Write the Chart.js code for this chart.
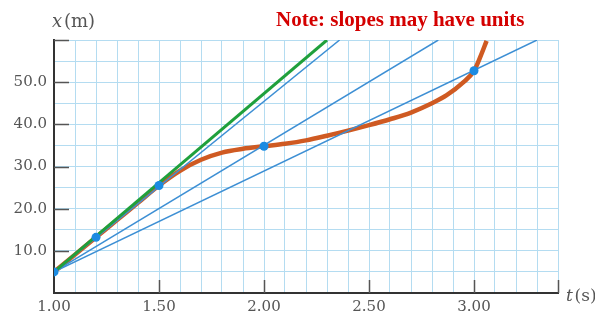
<!DOCTYPE html>
<html>
<head>
<meta charset="utf-8">
<script src="https://cdn.jsdelivr.net/npm/chart.js@4"></script>
<style>
  body { margin: 0; background: #fff; }
  #wrap { position: relative; width: 595px; height: 318px; }
  .lbl { position: absolute; font-family: "DejaVu Serif", serif; color: #555; white-space: nowrap; }
  #note { position: absolute; left: 276px; top: 7px; font-family: "Liberation Serif", serif; font-weight: bold; font-size: 21px; color: #d40000; white-space: nowrap; }
</style>
</head>
<body>
<div id="wrap">
  <canvas id="chartSlopes" width="595" height="318"></canvas>
  <div class="lbl" style="left:52px; top:10px; font-size:18px;"><i>x</i>&#8202;(m)</div>
  <div class="lbl" style="left:566px; top:285px; font-size:17px;"><i>t</i>&#8202;(s)</div>
  <div id="note">Note: slopes may have units</div>
</div>
<script>
// position curve x(t)
const curveT = [1.0, 1.1, 1.2, 1.3, 1.4, 1.5, 1.6, 1.7, 1.8, 1.9, 2.0, 2.1, 2.2, 2.3, 2.4, 2.5, 2.6, 2.7, 2.8, 2.87, 2.95, 3.0, 3.03, 3.06];
const curveX = [5.0, 9.1, 13.2, 17.3, 21.4, 25.5, 29.0, 31.6, 33.3, 34.2, 34.8, 35.4, 36.2, 37.3, 38.5, 39.8, 41.2, 42.8, 45.0, 46.9, 50.0, 52.7, 56.0, 59.8];

// marked points
const pointT = [1.0, 1.2, 1.5, 2.0, 3.0];
const pointX = [5.0, 13.2, 25.5, 34.8, 52.7];

// tangent at t = 1.00 (green)
const tangentT = [1.0, 2.30];
const tangentX = [5.0, 60.0];

// secant lines from (1.00, 5.0) up to the top of the plot (blue)
const secantStartT = 1.0;
const secantStartX = 5.0;
const secantEndT = [2.36, 2.83, 3.30];
const secantEndX = [60.0, 60.0, 60.0];

// axis labels that are shown
const xTickLabels = [1.0, 1.5, 2.0, 2.5, 3.0];
const yTickLabels = [10, 20, 30, 40, 50];
// short dark tick marks on the axes
const xTickMarks = [1.5, 2.0, 2.5, 3.0, 3.4];
const yTickMarks = [10, 20, 30, 40, 50, 60];

const toXY = (ts, xs) => ts.map((t, i) => ({ x: t, y: xs[i] }));

const secantSets = secantEndT.map((t, i) => ({
    data: toXY([secantStartT, t], [secantStartX, secantEndX[i]]),
    showLine: true,
    borderColor: '#3d8fd4',
    borderWidth: 1.5,
    pointRadius: 0,
    order: 3
}));

const axisTicks = {
    id: 'axisTicks',
    beforeDatasetsDraw(chart) {
        const { ctx, scales: { x, y }, chartArea } = chart;
        ctx.save();
        ctx.strokeStyle = '#555';
        ctx.lineWidth = 1.5;
        ctx.beginPath();
        xTickMarks.forEach(v => {
            const px = Math.round(x.getPixelForValue(v)) + 0.5;
            ctx.moveTo(px, chartArea.bottom);
            ctx.lineTo(px, chartArea.bottom - 13);
        });
        yTickMarks.forEach(v => {
            const py = Math.round(y.getPixelForValue(v)) + 0.5;
            ctx.moveTo(chartArea.left, py);
            ctx.lineTo(chartArea.left + 15, py);
        });
        ctx.stroke();
        ctx.restore();
    }
};

const isLabel = (list, v) => list.some(l => Math.abs(l - v) < 1e-6);

new Chart(document.getElementById('chartSlopes'), {
    type: 'scatter',
    data: {
        datasets: [
            {
                data: toXY(curveT, curveX),
                showLine: true,
                borderColor: '#cf5a22',
                borderWidth: 4.5,
                cubicInterpolationMode: 'monotone',
                pointRadius: 0,
                order: 4
            },
            ...secantSets,
            {
                data: toXY(tangentT, tangentX),
                showLine: true,
                borderColor: '#1fa03c',
                borderWidth: 3,
                pointRadius: 0,
                order: 2
            },
            {
                data: toXY(pointT, pointX),
                showLine: false,
                pointRadius: 4.5,
                pointBackgroundColor: '#1b8be2',
                pointBorderWidth: 0,
                order: 1
            }
        ]
    },
    options: {
        responsive: false,
        devicePixelRatio: 1,
        animation: false,
        layout: { padding: { top: 40, right: 37, left: 0, bottom: 0 } },
        plugins: {
            legend: { display: false },
            tooltip: { enabled: false }
        },
        scales: {
            x: {
                type: 'linear',
                min: 1.0,
                max: 3.4,
                afterFit: (scale) => { scale.height = 25; },
                border: { color: '#333', width: 2 },
                grid: { color: '#b4dcf1', lineWidth: 1, drawTicks: false },
                ticks: {
                    stepSize: 0.1,
                    autoSkip: false,
                    maxRotation: 0,
                    padding: 5,
                    color: '#555',
                    font: { family: 'DejaVu Serif', size: 15 },
                    callback: (v) => isLabel(xTickLabels, v) ? v.toFixed(2) : ''
                }
            },
            y: {
                type: 'linear',
                min: 0,
                max: 60,
                afterFit: (scale) => { scale.width = 54; },
                border: { color: '#333', width: 2 },
                grid: { color: '#b4dcf1', lineWidth: 1, drawTicks: false },
                ticks: {
                    stepSize: 5,
                    autoSkip: false,
                    padding: 7,
                    color: '#555',
                    font: { family: 'DejaVu Serif', size: 15 },
                    callback: (v) => isLabel(yTickLabels, v) ? v.toFixed(1) : ''
                }
            }
        }
    },
    plugins: [axisTicks]
});
</script>
</body>
</html>
